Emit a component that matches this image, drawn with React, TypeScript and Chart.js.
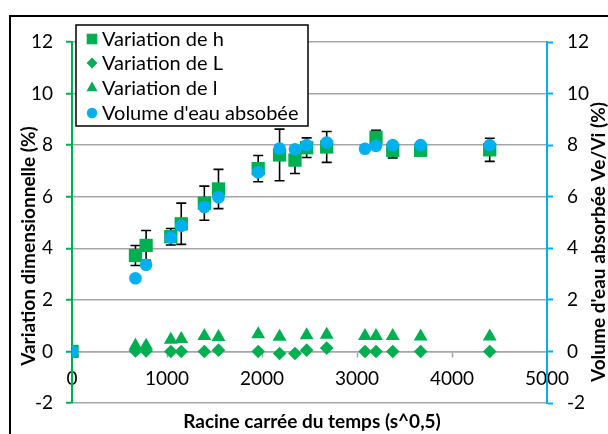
import React, { useEffect, useRef } from 'react';
import { Chart, registerables } from 'chart.js';

Chart.register(...registerables);

// ---- data ----
const timeRoot = [0, 668, 780, 1040, 1150, 1393, 1542, 1960, 2185, 2347, 2470, 2681, 3084, 3200, 3376, 3670, 4397];
const variationH = [0, 3.72, 4.11, 4.45, 4.95, 5.75, 6.3, 7.09, 7.62, 7.42, 7.9, 7.93, null, 8.3, 7.8, 7.8, 7.82];
const errorH = [0, 0.39, 0.58, 0.32, 0.8, 0.66, 0.76, 0.51, 1.0, 0.52, 0.38, 0.6, 0, 0.28, 0.3, 0.06, 0.45];
const variationL = [0, 0.02, 0.02, 0.0, 0.0, 0.0, 0.05, 0.0, -0.08, -0.08, 0.05, 0.13, 0.0, 0.0, 0.0, 0.0, 0.0];
const variationSmallL = [0, 0.22, 0.22, 0.45, 0.48, 0.6, 0.56, 0.67, 0.57, null, 0.63, 0.65, 0.6, 0.6, 0.6, 0.58, 0.58];
const volumeWater = [0, 2.84, 3.36, 4.42, 4.87, 5.6, 5.98, 6.95, 7.87, 7.84, 8.0, 8.1, 7.86, 7.97, 8.0, 8.0, 8.0];

const seriesLabels = ['Variation de h', 'Variation de L', 'Variation de l', "Volume d'eau absobée"];
const xTitle = 'Racine carrée du temps (s^0,5)';
const yTitle = 'Variation dimensionnelle (%)';
const y2Title = "Volume d'eau absorbée Ve/Vi (%)";

const GREEN = '#00B050';
const BLUE = '#00B0F0';
const GRID = '#A6A6A6';
const FONT = 'Lato, "Open Sans", sans-serif';

const toPoints = (arr: (number | null)[]) => timeRoot.map((x, i) => ({ x, y: arr[i] }));

function drawMarker(ctx: CanvasRenderingContext2D, style: string, x: number, y: number, r: number, color: string) {
  ctx.save();
  ctx.fillStyle = color;
  ctx.beginPath();
  if (style === 'rect') {
    const s = r * Math.SQRT1_2;
    ctx.rect(x - s, y - s, 2 * s, 2 * s);
  } else if (style === 'rectRot') {
    ctx.moveTo(x, y - r);
    ctx.lineTo(x + r, y);
    ctx.lineTo(x, y + r);
    ctx.lineTo(x - r, y);
    ctx.closePath();
  } else if (style === 'triangle') {
    let a = 0;
    ctx.moveTo(x + Math.sin(a) * r, y - Math.cos(a) * r);
    a += (2 * Math.PI) / 3;
    ctx.lineTo(x + Math.sin(a) * r, y - Math.cos(a) * r);
    a += (2 * Math.PI) / 3;
    ctx.lineTo(x + Math.sin(a) * r, y - Math.cos(a) * r);
    ctx.closePath();
  } else {
    ctx.arc(x, y, r, 0, Math.PI * 2);
  }
  ctx.fill();
  ctx.restore();
}

const errorBarPlugin = {
  id: 'errorBars',
  beforeDatasetDraw(chart: any, args: any) {
    if (args.index !== 0) return;
    const { ctx } = chart;
    const xs = chart.scales.x;
    const ys = chart.scales.y;
    ctx.save();
    ctx.strokeStyle = '#000';
    ctx.lineWidth = 1.6;
    timeRoot.forEach((t, i) => {
      const e = errorH[i];
      const v = variationH[i];
      if (!e || v === null) return;
      const px = xs.getPixelForValue(t);
      const top = ys.getPixelForValue(v + e);
      const bot = ys.getPixelForValue(v - e);
      ctx.beginPath();
      ctx.moveTo(px, top);
      ctx.lineTo(px, bot);
      ctx.moveTo(px - 5, top);
      ctx.lineTo(px + 5, top);
      ctx.moveTo(px - 5, bot);
      ctx.lineTo(px + 5, bot);
      ctx.stroke();
    });
    ctx.restore();
  },
};

const decorPlugin = {
  id: 'decor',
  beforeDraw(chart: any) {
    const { ctx, width, height } = chart;
    ctx.save();
    ctx.fillStyle = '#fff';
    ctx.fillRect(0, 0, width, height);
    ctx.restore();
  },
  afterDraw(chart: any) {
    const { ctx } = chart;
    ctx.save();
    // outer frame
    ctx.strokeStyle = '#000';
    ctx.lineWidth = 2;
    ctx.strokeRect(10, 16, 700, 500);

    // titles
    ctx.fillStyle = '#000';
    ctx.font = `bold 19px ${FONT}`;
    ctx.textAlign = 'center';
    ctx.textBaseline = 'middle';
    ctx.fillText(xTitle, 312, 422);
    ctx.save();
    ctx.translate(29, 246);
    ctx.rotate(-Math.PI / 2);
    ctx.fillText(yTitle, 0, 0);
    ctx.restore();
    ctx.save();
    ctx.translate(599, 242);
    ctx.rotate(-Math.PI / 2);
    ctx.fillText(y2Title, 0, 0);
    ctx.restore();

    // legend
    const lx = 76, ly = 25, lw = 232, lh = 101;
    ctx.fillStyle = '#fff';
    ctx.fillRect(lx, ly, lw, lh);
    ctx.lineWidth = 1.5;
    ctx.strokeStyle = '#000';
    ctx.strokeRect(lx, ly, lw, lh);
    const rows = [39, 63, 88, 113];
    const styles = chart.data.datasets.map((d: any) => ({ s: d.pointStyle, c: d.backgroundColor }));
    const legendR = [7.5, 5.4, 6.4, 5.2];
    ctx.font = `20px ${FONT}`;
    ctx.textAlign = 'left';
    ctx.textBaseline = 'middle';
    seriesLabels.forEach((lab, i) => {
      drawMarker(ctx, styles[i].s, 92, rows[i], legendR[i], styles[i].c);
      ctx.fillStyle = '#000';
      ctx.fillText(lab, 102, rows[i] + 1);
    });
    ctx.restore();
  },
};

export default function App() {
  const ref = useRef<HTMLCanvasElement | null>(null);
  useEffect(() => {
    if (!ref.current) return;
    const tickFont = { family: FONT, size: 19 };
    const plain = (v: any) => String(v);
    const chart = new Chart(ref.current, {
      type: 'scatter',
      data: {
        datasets: [
          {
            label: seriesLabels[0],
            data: toPoints(variationH),
            pointStyle: 'rect',
            pointRadius: 9.4,
            backgroundColor: GREEN,
            borderWidth: 0,
            yAxisID: 'y',
            order: 3,
          },
          {
            label: seriesLabels[1],
            data: toPoints(variationL),
            pointStyle: 'rectRot',
            pointRadius: 6.8,
            backgroundColor: GREEN,
            borderWidth: 0,
            yAxisID: 'y',
            order: 2,
          },
          {
            label: seriesLabels[2],
            data: toPoints(variationSmallL),
            pointStyle: 'triangle',
            pointRadius: 8,
            backgroundColor: GREEN,
            borderWidth: 0,
            yAxisID: 'y',
            order: 1,
          },
          {
            label: seriesLabels[3],
            data: toPoints(volumeWater),
            pointStyle: 'circle',
            pointRadius: 6.3,
            backgroundColor: BLUE,
            borderWidth: 0,
            yAxisID: 'y2',
            order: 0,
          },
        ],
      } as any,
      options: {
        animation: false,
        responsive: true,
        maintainAspectRatio: false,
        layout: { padding: { left: 0, right: 0, top: 42, bottom: 31 } },
        plugins: { legend: { display: false }, tooltip: { enabled: false } },
        scales: {
          x: {
            type: 'linear',
            position: { y: 0 } as any,
            min: 0,
            max: 5000,
            ticks: { stepSize: 1000, padding: 11, font: tickFont, color: '#000', maxRotation: 0, callback: plain },
            grid: { drawOnChartArea: false, tickColor: GRID, tickLength: 5, tickWidth: 1.5 } as any,
            border: { color: GRID, width: 1.5 },
          },
          y: {
            type: 'linear',
            position: 'left',
            min: -2,
            max: 12,
            ticks: { stepSize: 2, padding: 13, font: tickFont, color: '#000', callback: plain },
            grid: { color: GRID, lineWidth: 1.5, tickColor: GREEN, tickLength: 6, tickWidth: 2 } as any,
            border: { color: GREEN, width: 2 },
            afterFit: (s: any) => { s.width = 72; },
          },
          y2: {
            type: 'linear',
            position: 'right',
            min: -2,
            max: 12,
            ticks: { stepSize: 2, padding: 14, font: tickFont, color: '#000', callback: plain },
            grid: { drawOnChartArea: false, tickColor: BLUE, tickLength: 6, tickWidth: 2 } as any,
            border: { color: BLUE, width: 2 },
            afterFit: (s: any) => { s.width = 61; },
          },
        },
      } as any,
      plugins: [decorPlugin, errorBarPlugin],
    });
    return () => chart.destroy();
  }, []);
  return (
    <div style={{ position: 'fixed', left: 0, top: 0, width: 608, height: 434 }}>
      <canvas ref={ref} />
    </div>
  );
}
